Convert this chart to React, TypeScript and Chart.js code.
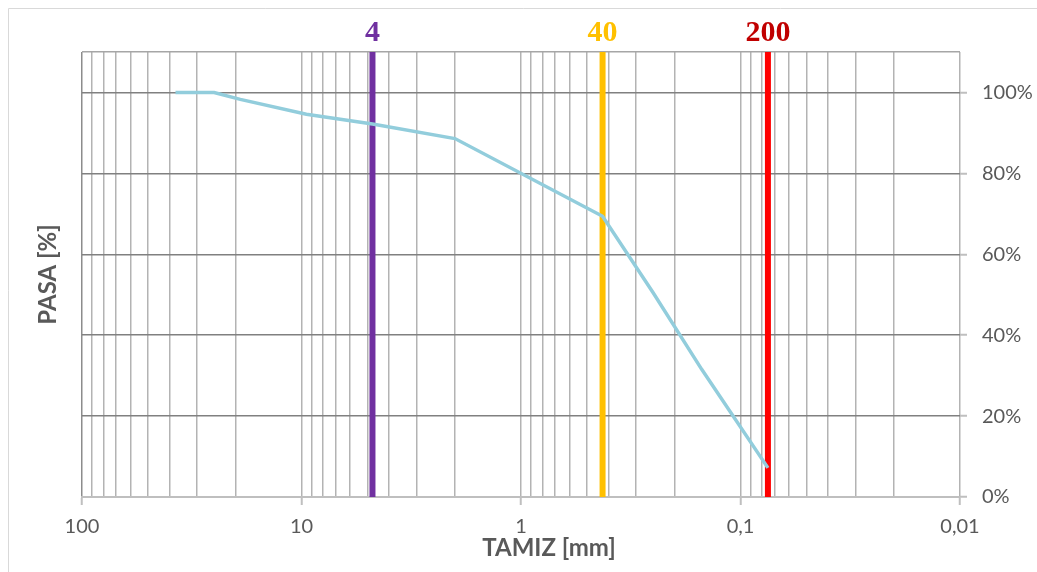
import React, { useEffect, useRef } from "react";
import { Chart, registerables } from "chart.js";

Chart.register(...registerables);

// Grain-size curve
const sieveSizes = [37.5, 25, 19, 9.5, 4.75, 2, 0.425, 0.25, 0.15, 0.075];
const passing = [100, 100, 98.3, 94.6, 92.2, 88.6, 69.4, 50.5, 31.5, 7.2];

// Reference sieves
const markerSizes = [4.75, 0.425, 0.075];
const markerLabels = ["4", "40", "200"];
const markerLineColors = ["#7030A0", "#FFC000", "#FF0000"];
const markerTextColors = ["#7030A0", "#FFC000", "#C00000"];

// Axes
const majorTicks = [100, 10, 1, 0.1, 0.01];
const majorTickLabels = ["100", "10", "1", "0,1", "0,01"];
const minorMultipliers = [1, 2, 3, 4, 5, 6, 7, 8, 9];
const yTicks = [0, 20, 40, 60, 80, 100, 110];
const yTickLabels = ["0%", "20%", "40%", "60%", "80%", "100%", ""];

const xTitle = "TAMIZ [mm]";
const yTitle = "PASA [%]";

const isMajor = (v: number) =>
  majorTicks.some((m) => Math.abs(v - m) / m < 1e-6);

export default function App() {
  const ref = useRef<HTMLCanvasElement | null>(null);

  useEffect(() => {
    if (!ref.current) return;

    const gridValues: number[] = [];
    for (let i = 1; i < majorTicks.length; i++) {
      const base = majorTicks[i];
      minorMultipliers.forEach((m) => gridValues.push(+(base * m).toPrecision(6)));
    }
    gridValues.push(majorTicks[0]);

    const overlay = {
      id: "overlay",
      beforeDraw(chart: any) {
        const c = chart.ctx;
        c.save();
        c.strokeStyle = "#d9d9d9";
        c.lineWidth = 1;
        c.beginPath();
        c.moveTo(8.5, 600);
        c.lineTo(8.5, 8.5);
        c.lineTo(1100, 8.5);
        c.stroke();
        c.restore();
      },
      afterDraw(chart: any) {
        const c = chart.ctx;
        const xs = chart.scales.x;
        const area = chart.chartArea;
        c.save();
        c.font = "bold 30px 'Liberation Serif', serif";
        c.textAlign = "center";
        c.textBaseline = "alphabetic";
        markerSizes.forEach((s, i) => {
          c.fillStyle = markerTextColors[i];
          c.fillText(markerLabels[i], xs.getPixelForValue(s), area.top - 11);
        });
        c.fillStyle = "#595959";
        c.font = "bold 24px Lato, sans-serif";
        c.textBaseline = "middle";
        c.fillText(xTitle, (area.left + area.right) / 2 + 28, 548);
        c.translate(48, (area.top + area.bottom) / 2);
        c.rotate(-Math.PI / 2);
        c.fillText(yTitle, 0, 0);
        c.restore();
      },
    };

    const datasets: any[] = [
      {
        label: "curve",
        data: sieveSizes.map((s, i) => ({ x: s, y: passing[i] })),
        borderColor: "#92CDDC",
        borderWidth: 3.5,
        pointRadius: 0,
        tension: 0,
        order: 0,
      },
      ...markerSizes.map((s, i) => ({
        label: markerLabels[i],
        data: [
          { x: s, y: 0 },
          { x: s, y: 110 },
        ],
        borderColor: markerLineColors[i],
        borderWidth: 6,
        borderCapStyle: "round",
        pointRadius: 0,
        order: 1,
      })),
    ];

    const chart = new Chart(ref.current, {
      type: "line",
      data: { datasets },
      plugins: [overlay],
      options: {
        animation: false,
        responsive: false,
        maintainAspectRatio: false,
        layout: { padding: { left: 82, top: 52, right: 0, bottom: 0 } },
        plugins: { legend: { display: false }, tooltip: { enabled: false } },
        scales: {
          x: {
            type: "logarithmic",
            reverse: true,
            min: 0.01,
            max: 100,
            afterBuildTicks(scale: any) {
              scale.ticks = gridValues.map((v) => ({ value: v, major: isMajor(v) }));
            },
            afterFit(scale: any) {
              scale.height = 75;
            },
            ticks: {
              autoSkip: false,
              maxRotation: 0,
              minRotation: 0,
              padding: 10,
              color: "#595959",
              font: { family: "Lato", size: 20 },
              callback(value: any) {
                const v = Number(value);
                const idx = majorTicks.findIndex((m) => Math.abs(v - m) / m < 1e-6);
                return idx >= 0 ? majorTickLabels[idx] : "";
              },
            },
            grid: {
              color: (ctx: any) =>
                ctx.tick && Math.abs(ctx.tick.value - 100) < 1e-6 ? "#8c8c8c" : "#b3b3b3",
              lineWidth: 1.5,
              tickLength: 8,
              tickColor: (ctx: any) =>
                ctx.tick && isMajor(ctx.tick.value) ? "#bfbfbf" : "rgba(0,0,0,0)",
              tickWidth: 2,
            },
            border: { display: true, color: "#bfbfbf", width: 2 },
          },
          y: {
            type: "linear",
            position: "right",
            min: 0,
            max: 110,
            afterBuildTicks(scale: any) {
              scale.ticks = yTicks.map((v) => ({ value: v }));
            },
            afterFit(scale: any) {
              scale.width = 77;
            },
            ticks: {
              padding: 15,
              color: "#595959",
              font: { family: "Lato", size: 20 },
              callback(value: any) {
                const idx = yTicks.indexOf(Number(value));
                return idx >= 0 ? yTickLabels[idx] : "";
              },
            },
            grid: {
              color: (ctx: any) => {
                const v = ctx.tick ? ctx.tick.value : -1;
                if (v === 0) return "rgba(0,0,0,0)";
                if (v === 110) return "#a6a6a6";
                return "#808080";
              },
              lineWidth: 1.5,
              tickLength: 7,
              tickColor: (ctx: any) =>
                ctx.tick && ctx.tick.value <= 100 ? "#bfbfbf" : "rgba(0,0,0,0)",
              tickWidth: 2,
            },
            border: { display: false },
          },
        },
      } as any,
    });

    return () => chart.destroy();
  }, []);

  return (
    <div style={{ position: "fixed", left: 0, top: 0, width: 1037, height: 572, background: "#fff" }}>
      <canvas ref={ref} width={1037} height={572} style={{ display: "block" }} />
    </div>
  );
}
